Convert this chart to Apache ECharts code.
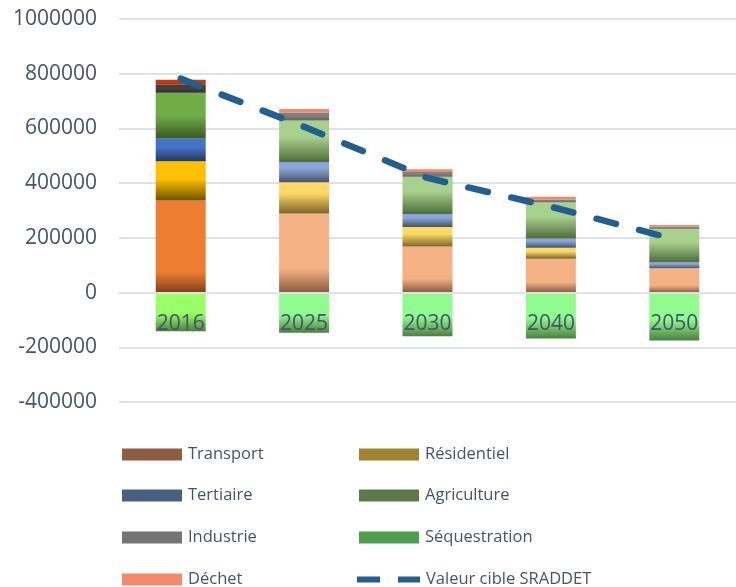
<!DOCTYPE html>
<html>
<head>
<meta charset="utf-8">
<script src="https://cdn.jsdelivr.net/npm/echarts@6/dist/echarts.min.js"></script>
<style>
html,body{margin:0;padding:0;background:#fff;}
#chart{width:736px;height:587px;}
</style>
</head>
<body>
<div id="chart"></div>
<script>
// ---- data ----
var categories = ['2016', '2025', '2030', '2040', '2050'];
var transport = [337000, 289000, 168000, 124000, 87000];
var residentiel = [143000, 114000, 72000, 40000, 2000];
var tertiaire = [83000, 74000, 47000, 34000, 22000];
var agriculture = [167000, 152000, 136000, 132000, 122000];
var industrie = [30000, 29000, 18000, 10000, 8000];
var dechet = [18000, 13000, 10000, 10000, 6000];
var sequestration = [-141000, -147000, -160000, -168000, -175000];
var cible = [782000, 606000, 419000, 314000, 195000];
var yTicks = { min: -400000, max: 1000000, interval: 200000 };

// ---- layout ----
var gridTop = 19, gridHeight = 383;
// shift the category axis up to the zero line of the value axis
var zeroOffset = -((0 - yTicks.min) / (yTicks.max - yTicks.min)) * gridHeight;

// ---- styles ----
function grad(top, bottom, start) {
  return new echarts.graphic.LinearGradient(0, 0, 0, 1, [
    { offset: 0, color: top },
    { offset: start, color: top },
    { offset: 1, color: bottom }
  ]);
}
var styles = {
  Transport: { first: ['#ED7D31', '#7E3F18', 0.78], other: ['#F4B183', '#8A5A3E', 0.7], legend: '#8B5E44' },
  'Résidentiel': { first: ['#FFC000', '#6F5400', 0.45], other: ['#FFD966', '#7A6526', 0.35], legend: '#A08530' },
  Tertiaire: { first: ['#4472C4', '#203864', 0.4], other: ['#8AA5D8', '#44546A', 0.3], legend: '#4B5D80' },
  Agriculture: { first: ['#70AD47', '#385723', 0.5], other: ['#A9D18E', '#4E6B3A', 0.4], legend: '#5B7A48' },
  Industrie: { first: ['#404040', '#2E2E2E', 0.5], other: ['#808080', '#5E5E5E', 0.5], legend: '#757575' },
  'Déchet': { first: ['#C43A0E', '#A8300A', 0.5], other: ['#F4896A', '#F4896A', 0.5], legend: '#F4886A' },
  'Séquestration': { first: ['#99FF66', '#4C8040', 0.55], other: ['#90FC90', '#4C8040', 0.55], legend: '#4EA050' }
};
function barSeries(name, values) {
  var st = styles[name];
  return {
    name: name,
    type: 'bar',
    stack: 'total',
    barWidth: 50,
    z: 2,
    data: values.map(function (v, i) {
      var c = i === 0 ? st.first : st.other;
      return { value: v, itemStyle: { color: grad(c[0], c[1], c[2]) } };
    }),
    itemStyle: { color: st.legend }
  };
}

var chart = echarts.init(document.getElementById('chart'));
var txt = '#44546A';
var font = "'Open Sans', sans-serif";
var lineColor = '#215F91';
var dashIcon = 'path://M0,0 L23,0 L23,6 L0,6 Z M41,0 L63,0 L63,6 L41,6 Z';

function legendAt(left, top, name, isLine) {
  var item = { name: name, icon: isLine ? dashIcon : 'rect' };
  item.itemStyle = { color: isLine ? lineColor : styles[name].legend, borderWidth: 0, borderColor: 'transparent', borderType: 'solid' };
  return {
    left: left, top: top, itemWidth: isLine ? 63 : 60, itemHeight: 12,
    textStyle: { color: txt, fontSize: 16.5, fontFamily: font, padding: [0, 0, 0, 1] },
    data: [item]
  };
}
var rowTop = [441, 482, 524, 566];

chart.setOption({
  animation: false,
  backgroundColor: '#fff',
  grid: { left: 119, top: gridTop, width: 621, height: gridHeight, containLabel: false },
  xAxis: {
    type: 'category',
    data: categories,
    z: 10,
    offset: zeroOffset,
    axisLine: { show: true, onZero: false, lineStyle: { color: '#DDE1E8', width: 2 } },
    axisTick: { show: false },
    axisLabel: { color: txt, fontSize: 21, fontFamily: font, margin: 21 }
  },
  yAxis: {
    type: 'value',
    min: yTicks.min,
    max: yTicks.max,
    interval: yTicks.interval,
    axisLine: { show: false },
    axisTick: { show: false },
    splitLine: { lineStyle: { color: '#DDE1E8', width: 2 } },
    axisLabel: { color: txt, fontSize: 21, fontFamily: font, margin: 22, formatter: function (v) { return String(v); } }
  },
  legend: [
    legendAt(117, rowTop[0], 'Transport'),
    legendAt(117, rowTop[1], 'Tertiaire'),
    legendAt(117, rowTop[2], 'Industrie'),
    legendAt(117, rowTop[3], 'Déchet'),
    legendAt(354, rowTop[0], 'Résidentiel'),
    legendAt(354, rowTop[1], 'Agriculture'),
    legendAt(354, rowTop[2], 'Séquestration'),
    legendAt(352, rowTop[3], 'Valeur cible SRADDET', true)
  ],
  series: [
    barSeries('Transport', transport),
    barSeries('Résidentiel', residentiel),
    barSeries('Tertiaire', tertiaire),
    barSeries('Agriculture', agriculture),
    barSeries('Industrie', industrie),
    barSeries('Déchet', dechet),
    barSeries('Séquestration', sequestration),
    {
      name: 'Valeur cible SRADDET',
      type: 'line',
      z: 5,
      symbol: 'none',
      data: cible,
      itemStyle: { color: lineColor },
      lineStyle: { color: lineColor, width: 6.5, type: [20, 24], cap: 'round' }
    }
  ]
});
</script>
</body>
</html>
